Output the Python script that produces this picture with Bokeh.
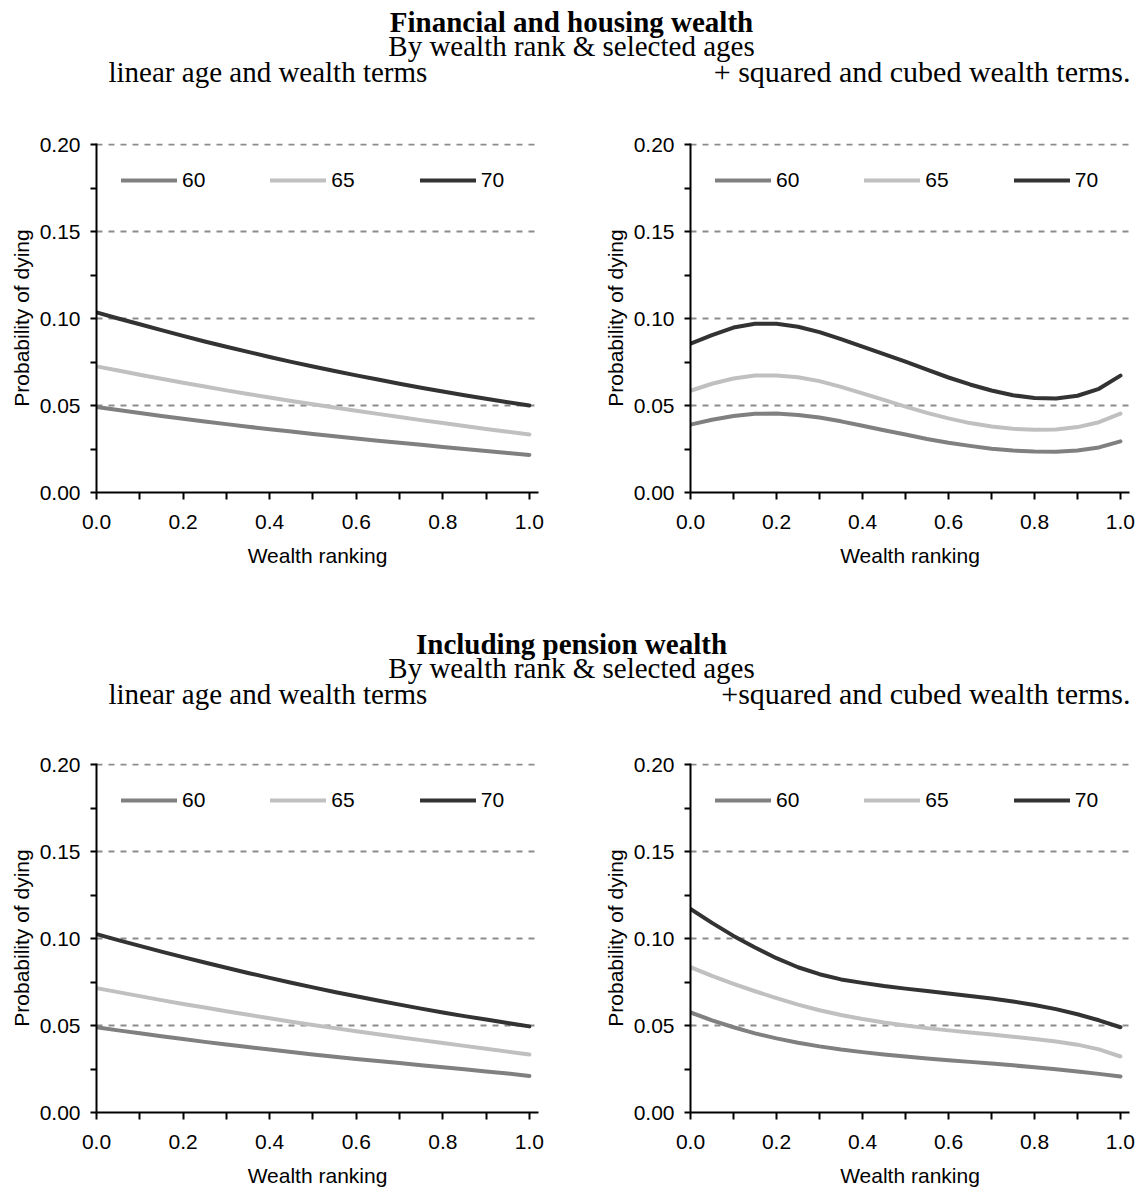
from bokeh.plotting import figure
from bokeh.models import (Range1d, FixedTicker, PrintfTickFormatter, Legend,
                          LegendItem, Label)
from bokeh.layouts import column, row
from bokeh.embed import file_html
from bokeh.resources import INLINE

# ---------------- data ----------------
wealth_rank = [0.00, 0.05, 0.10, 0.15, 0.20, 0.25, 0.30, 0.35, 0.40, 0.45, 0.50,
               0.55, 0.60, 0.65, 0.70, 0.75, 0.80, 0.85, 0.90, 0.95, 1.00]
ages = ["60", "65", "70"]
age_colors = ["#808080", "#c0c0c0", "#333333"]

# Financial and housing wealth, linear terms
fh_lin_60 = [0.0492, 0.0474, 0.0457, 0.0440, 0.0424, 0.0408, 0.0393, 0.0378, 0.0364, 0.0350, 0.0336,
             0.0323, 0.0310, 0.0298, 0.0286, 0.0274, 0.0262, 0.0250, 0.0238, 0.0227, 0.0216]
fh_lin_65 = [0.0725, 0.0701, 0.0677, 0.0654, 0.0631, 0.0609, 0.0587, 0.0566, 0.0546, 0.0526, 0.0507,
             0.0488, 0.0470, 0.0452, 0.0434, 0.0416, 0.0399, 0.0382, 0.0365, 0.0349, 0.0333]
fh_lin_70 = [0.1035, 0.1000, 0.0967, 0.0933, 0.0900, 0.0868, 0.0838, 0.0808, 0.0779, 0.0751, 0.0724,
             0.0698, 0.0673, 0.0649, 0.0625, 0.0602, 0.0580, 0.0559, 0.0539, 0.0519, 0.0500]

# Financial and housing wealth, + squared and cubed terms
fh_cub_60 = [0.0390, 0.0418, 0.0440, 0.0452, 0.0454, 0.0446, 0.0431, 0.0409, 0.0384, 0.0358, 0.0333,
             0.0308, 0.0286, 0.0268, 0.0252, 0.0241, 0.0235, 0.0234, 0.0241, 0.0259, 0.0294]
fh_cub_65 = [0.0585, 0.0625, 0.0655, 0.0672, 0.0673, 0.0662, 0.0640, 0.0607, 0.0570, 0.0532, 0.0494,
             0.0458, 0.0426, 0.0399, 0.0379, 0.0366, 0.0360, 0.0362, 0.0376, 0.0404, 0.0453]
fh_cub_70 = [0.0855, 0.0905, 0.0948, 0.0970, 0.0970, 0.0953, 0.0922, 0.0882, 0.0838, 0.0795, 0.0752,
             0.0706, 0.0661, 0.0621, 0.0586, 0.0559, 0.0543, 0.0540, 0.0556, 0.0596, 0.0672]

# Including pension wealth, linear terms
pw_lin_60 = [0.0490, 0.0472, 0.0455, 0.0438, 0.0422, 0.0406, 0.0391, 0.0376, 0.0362, 0.0348, 0.0334,
             0.0321, 0.0308, 0.0296, 0.0284, 0.0272, 0.0260, 0.0248, 0.0236, 0.0224, 0.0210]
pw_lin_65 = [0.0715, 0.0692, 0.0669, 0.0646, 0.0624, 0.0603, 0.0582, 0.0562, 0.0542, 0.0522, 0.0503,
             0.0485, 0.0467, 0.0450, 0.0433, 0.0416, 0.0399, 0.0383, 0.0367, 0.0350, 0.0334]
pw_lin_70 = [0.1025, 0.0991, 0.0958, 0.0925, 0.0893, 0.0862, 0.0832, 0.0802, 0.0774, 0.0746, 0.0719,
             0.0693, 0.0668, 0.0644, 0.0620, 0.0597, 0.0575, 0.0554, 0.0534, 0.0514, 0.0495]

# Including pension wealth, + squared and cubed terms
pw_cub_60 = [0.0575, 0.0530, 0.0490, 0.0455, 0.0426, 0.0401, 0.0380, 0.0362, 0.0347, 0.0334, 0.0322,
             0.0311, 0.0301, 0.0291, 0.0281, 0.0271, 0.0260, 0.0248, 0.0236, 0.0222, 0.0207]
pw_cub_65 = [0.0835, 0.0785, 0.0740, 0.0697, 0.0657, 0.0620, 0.0588, 0.0560, 0.0537, 0.0517, 0.0500,
             0.0485, 0.0472, 0.0460, 0.0448, 0.0436, 0.0423, 0.0408, 0.0390, 0.0363, 0.0322]
pw_cub_70 = [0.1170, 0.1090, 0.1015, 0.0948, 0.0887, 0.0835, 0.0795, 0.0765, 0.0745, 0.0727, 0.0712,
             0.0698, 0.0684, 0.0670, 0.0655, 0.0638, 0.0618, 0.0594, 0.0565, 0.0530, 0.0490]

x_ticks = [0.0, 0.2, 0.4, 0.6, 0.8, 1.0]
x_minor = [0.1, 0.3, 0.5, 0.7, 0.9]
y_ticks = [0.00, 0.05, 0.10, 0.15, 0.20]
y_minor = [0.025, 0.075, 0.125, 0.175]

SANS = "Liberation Sans"
SERIF = "Liberation Serif"
TOTAL_W = 1145


def header(height, title, subtitle, left_sub, right_sub, base_title, base_sub, base_panel):
    h = figure(width=TOTAL_W, height=height, x_range=Range1d(0, TOTAL_W),
               y_range=Range1d(0, height), toolbar_location=None, output_backend="svg",
               min_border=0, x_axis_type=None, y_axis_type=None, title=None,
               outline_line_color=None)
    h.grid.visible = False
    specs = [
        (title, 571, base_title, "29px", "bold", "center"),
        (subtitle, 571, base_sub, "29px", "normal", "center"),
        (left_sub, 108, base_panel, "29px", "normal", "left"),
        (right_sub, 1130, base_panel, "30px", "normal", "right"),
    ]
    for txt, x, y, size, style, align in specs:
        h.add_layout(Label(x=x, y=y, text=txt, text_font=SERIF, text_font_size=size,
                           text_font_style=style, text_align=align,
                           text_baseline="alphabetic", text_color="black"))
    return h


def panel(width, height, b_left, b_right, b_top, b_bottom, s60, s65, s70):
    p = figure(width=width, height=height, x_range=Range1d(0, 1.021),
               y_range=Range1d(0, 0.2006), toolbar_location=None, output_backend="svg",
               min_border_left=b_left, min_border_right=b_right,
               min_border_top=b_top, min_border_bottom=b_bottom, title=None,
               outline_line_color=None, background_fill_color="white",
               border_fill_color="white")
    renderers = []
    for ys, col in zip([s60, s65, s70], age_colors):
        r = p.line(wealth_rank, ys, line_width=4, line_color=col, line_cap="round",
                   line_join="round")
        renderers.append(r)

    p.xgrid.visible = False
    p.ygrid.grid_line_color = "#8c8c8c"
    p.ygrid.grid_line_width = 2
    p.ygrid.grid_line_dash = "6 6"

    xa = p.xaxis[0]
    xa.ticker = FixedTicker(ticks=x_ticks, minor_ticks=x_minor)
    xa.formatter = PrintfTickFormatter(format="%.1f")
    xa.axis_label = "Wealth ranking"
    xa.major_tick_out = 7
    xa.major_tick_in = 0
    xa.minor_tick_out = 7
    xa.minor_tick_in = 0
    xa.major_label_standoff = 15
    xa.axis_label_standoff = 12

    ya = p.yaxis[0]
    ya.ticker = FixedTicker(ticks=y_ticks, minor_ticks=y_minor)
    ya.formatter = PrintfTickFormatter(format="%.2f")
    ya.axis_label = "Probability of dying"
    ya.major_tick_out = 6
    ya.major_tick_in = 0
    ya.minor_tick_out = 6
    ya.minor_tick_in = 0
    ya.major_label_standoff = 10
    ya.axis_label_standoff = 4

    for ax in (xa, ya):
        ax.axis_line_width = 2
        ax.axis_line_color = "black"
        ax.major_tick_line_width = 2
        ax.minor_tick_line_width = 2
        ax.major_tick_line_color = "black"
        ax.minor_tick_line_color = "black"
        ax.major_label_text_font = SANS
        ax.major_label_text_font_size = "21px"
        ax.major_label_text_color = "black"
        ax.axis_label_text_font = SANS
        ax.axis_label_text_font_size = "21px"
        ax.axis_label_text_font_style = "normal"
        ax.axis_label_text_color = "black"

    legend = Legend(items=[LegendItem(label=a, renderers=[r]) for a, r in zip(ages, renderers)],
                    orientation="horizontal", location=(25, 300), padding=0, margin=0,
                    spacing=65, label_standoff=5, glyph_width=56, glyph_height=20,
                    label_height=20, label_text_font=SANS, label_text_font_size="21px",
                    label_text_color="black", border_line_color=None,
                    background_fill_alpha=0)
    p.add_layout(legend)
    return p


head1 = header(120, "Financial and housing wealth", "By wealth rank & selected ages",
               "linear age and wealth terms", "+ squared and cubed wealth terms.",
               99, 75, 49)
p1 = panel(600, 480, 96, 62, 23, 108, fh_lin_60, fh_lin_65, fh_lin_70)
p2 = panel(545, 480, 87, 16, 23, 108, fh_cub_60, fh_cub_65, fh_cub_70)

head2 = header(141, "Including pension wealth", "By wealth rank & selected ages",
               "linear age and wealth terms", "+squared and cubed wealth terms.",
               98, 74, 48)
p3 = panel(600, 453, 96, 62, 22, 82, pw_lin_60, pw_lin_65, pw_lin_70)
p4 = panel(545, 453, 87, 16, 22, 82, pw_cub_60, pw_cub_65, pw_cub_70)

layout = column(head1, row(p1, p2), head2, row(p3, p4))

with open("out.html", "w") as f:
    f.write(file_html(layout, INLINE))
